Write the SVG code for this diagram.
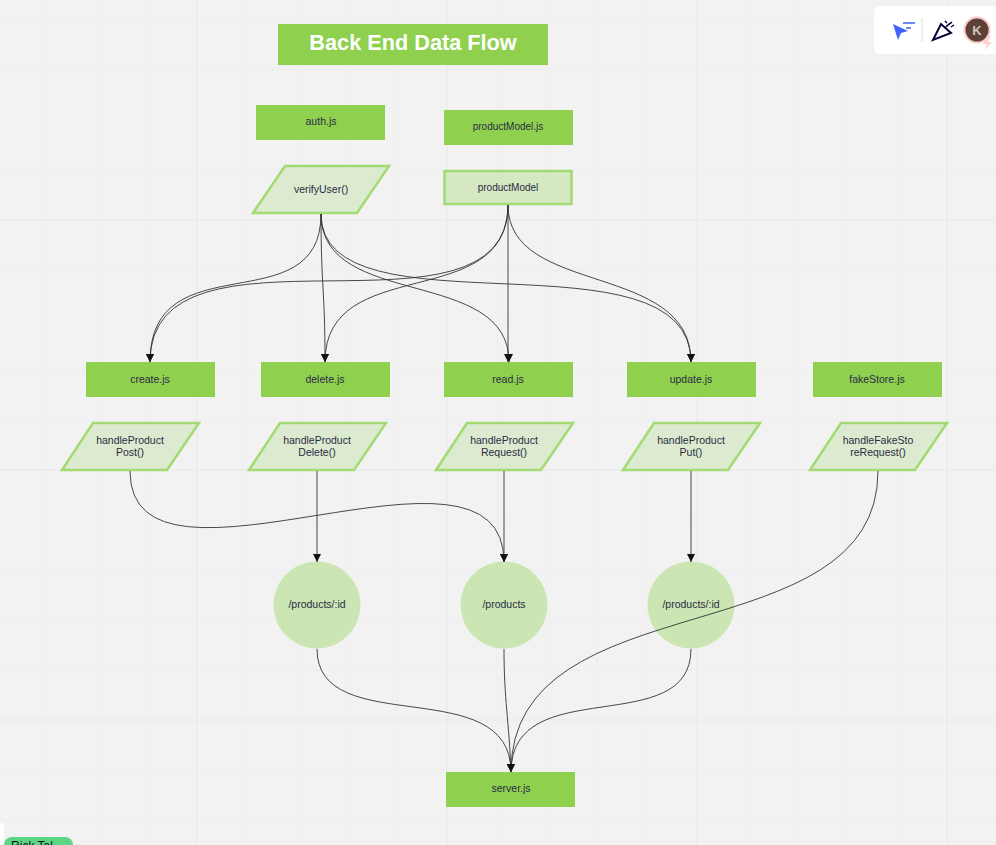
<svg xmlns="http://www.w3.org/2000/svg" width="996" height="845" viewBox="0 0 996 845">
<style>
text{font-family:"Liberation Sans",Arial,sans-serif;font-size:10.5px;fill:#2b2b45;text-anchor:middle}
.minor{stroke:#eeeeee;stroke-width:1;fill:none}
.major{stroke:#e8e8e8;stroke-width:1;fill:none}
.box{fill:#8fd14f}
.shape{fill:#dcebd0;stroke:#a3da72;stroke-width:2.500}
.circle{fill:#cbe6b3}
.edge{fill:none;stroke:#333;stroke-width:.9;marker-end:url(#arrow)}
.plain{fill:none;stroke:#333;stroke-width:.9}
</style>
<defs>
<marker id="arrow" markerUnits="userSpaceOnUse" markerWidth="9" markerHeight="9" refX="8" refY="4" orient="auto"><path d="M0 0L8 4L0 8Z" fill="#111"/></marker>
</defs>
<rect width="996" height="845" fill="#f2f2f2"/>
<g id="grid">
<path class="minor" d="M47 0V845M97 0V845M147 0V845M247 0V845M297 0V845M347 0V845M397 0V845M497 0V845M547 0V845M597 0V845M647 0V845M747 0V845M797 0V845M847 0V845M897 0V845M0 20H996M0 70H996M0 120H996M0 170H996M0 270H996M0 320H996M0 370H996M0 420H996M0 520H996M0 570H996M0 620H996M0 670H996M0 770H996M0 820H996"/>
<path class="major" d="M197 0V845M447 0V845M697 0V845M947 0V845M0 220H996M0 470H996M0 720H996"/>
</g>
<g id="title"><rect class="box" x="278" y="24" width="270" height="41"/><text x="413" y="50" style="font-size:21.700px;font-weight:bold;fill:#fff">Back End Data Flow</text></g>
<g id="auth"><rect class="box" x="256" y="105" width="129" height="35"/><text x="321" y="125">auth.js</text></g>
<g id="productModelFile"><rect class="box" x="444" y="110" width="129" height="35"/><text x="508" y="130" style="font-size:10px">productModel.js</text></g>
<g id="verifyUser"><path class="shape" d="M285 166H389L357 213H253Z"/><text x="321" y="193">verifyUser()</text></g>
<g id="productModel"><rect class="shape" x="444.500" y="171" width="127" height="33" style="fill:#d5e8c2"/><text x="508" y="191" style="font-size:10px">productModel</text></g>
<g id="create"><rect class="box" x="86" y="362" width="129" height="35"/><text x="150" y="383">create.js</text></g>
<g id="delete"><rect class="box" x="261" y="362" width="129" height="35"/><text x="325" y="383">delete.js</text></g>
<g id="read"><rect class="box" x="444" y="362" width="129" height="35"/><text x="508" y="383">read.js</text></g>
<g id="update"><rect class="box" x="627" y="362" width="129" height="35"/><text x="691" y="383">update.js</text></g>
<g id="fakeStore"><rect class="box" x="813" y="362" width="129" height="35"/><text x="877" y="383">fakeStore.js</text></g>
<g id="post"><path class="shape" d="M93 423H199L167 470H62Z"/><text x="130" y="444">handleProduct</text><text x="130" y="456">Post()</text></g>
<g id="del"><path class="shape" d="M280 423H386L354 470H249Z"/><text x="317" y="444">handleProduct</text><text x="317" y="456">Delete()</text></g>
<g id="request"><path class="shape" d="M467 423H573L541 470H436Z"/><text x="504" y="444">handleProduct</text><text x="504" y="456">Request()</text></g>
<g id="put"><path class="shape" d="M654 423H760L728 470H623Z"/><text x="691" y="444">handleProduct</text><text x="691" y="456">Put()</text></g>
<g id="fake"><path class="shape" d="M841 423H947L915 470H810Z"/><text x="878" y="444">handleFakeSto</text><text x="878" y="456">reRequest()</text></g>
<g id="productsId1"><circle class="circle" cx="317" cy="605" r="43.500"/><text x="317" y="608">/products/:id</text></g>
<g id="products"><circle class="circle" cx="504" cy="605" r="43.500"/><text x="504" y="608">/products</text></g>
<g id="productsId2"><circle class="circle" cx="691" cy="605" r="43.500"/><text x="691" y="608">/products/:id</text></g>
<g id="server"><rect class="box" x="446" y="772" width="129" height="35"/><text x="511" y="792">server.js</text></g>
<g id="connectors">
<path class="edge" d="M321 214C321 325 150 240 150 362"/>
<path class="edge" d="M321 214C321 288 325 288 325 362"/>
<path class="edge" d="M321 214C321 310 509 266 509 362"/>
<path class="edge" d="M321 214C321 340 691 225 691 362"/>
<path class="edge" d="M508 205C508 355 150 205 150 362"/>
<path class="edge" d="M508 205C508 314 325 252 325 362"/>
<path class="edge" d="M508 205V362"/>
<path class="edge" d="M508 205C508 297 691 261 691 362"/>
<path class="edge" d="M130 471C130 620 504 410 504 562"/>
<path class="edge" d="M317 471V562"/>
<path class="edge" d="M504 471V562"/>
<path class="edge" d="M691 471V562"/>
<path class="plain" d="M878 471C878 658 511 578 511 772"/>
<path class="edge" d="M317 649C317 741 511 671 511 772"/>
<path class="edge" d="M504 649C504 700 509 720 511 772"/>
<path class="edge" d="M691 649C691 741 511 671 511 772"/>
</g>
<g id="toolbar">
<rect x="874" y="6" width="140" height="48" rx="6" fill="#fff"/>
<path d="M893 24L908 31L901 33L898 40Z" fill="#4262ff"/><path d="M903 23H915M906 28H911" stroke="#4262ff" stroke-width="1.500" fill="none"/>
<path d="M922 18V42" stroke="#dcdcea" stroke-width="1"/>
<path d="M933 40L941 24L951 33Z" fill="none" stroke="#050038" stroke-width="2"/>
<path d="M946 27C948 24 950 24 952 22M945 21L947 23M951 27L954 25" fill="none" stroke="#050038" stroke-width="1.500"/>
<circle cx="977" cy="30" r="12.500" fill="#5d4037" stroke="#f8c9c9" stroke-width="2"/>
<text x="977" y="35" style="font-size:13px;font-weight:bold;fill:#cfc6c2">K</text>
<path d="M987 36L983 44H987L985 50L992 42H988L991 36Z" fill="#fcd0d0"/>
</g>
<g id="tab"><rect x="-4" y="823" width="8" height="22" rx="3" fill="#fff"/><rect x="4" y="837" width="69" height="20" rx="8" fill="#5cd685"/><text x="32" y="850" style="font-size:12px;fill:#111">Rick Tal</text></g>
</svg>
